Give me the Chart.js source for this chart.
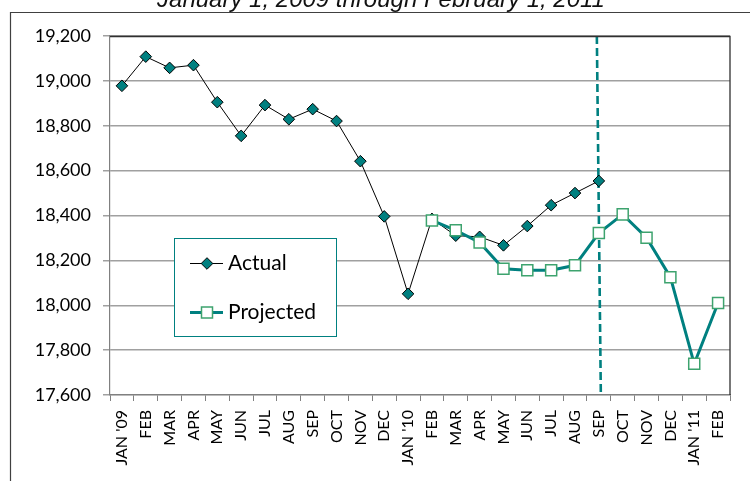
<!DOCTYPE html>
<html><head><meta charset="utf-8">
<script src="https://cdn.jsdelivr.net/npm/chart.js@4"></script>
<style>html,body{margin:0;padding:0;background:#fff;}#wrap{width:751px;height:481px;position:relative;}</style>
</head><body><div id="wrap"><canvas id="c" width="751" height="481"></canvas></div>
<script>
const categories = ["JAN '09","FEB","MAR","APR","MAY","JUN","JUL","AUG","SEP","OCT","NOV","DEC","JAN '10","FEB","MAR","APR","MAY","JUN","JUL","AUG","SEP","OCT","NOV","DEC","JAN '11","FEB"];
const actualValues = [18978,19108,19058,19070,18905,18755,18892,18829,18874,18821,18642,18396,18051,18385,18310,18305,18267,18353,18446,18500,18554,null,null,null,null,null];
const projectedValues = [null,null,null,null,null,null,null,null,null,null,null,null,null,18378,18334,18280,18163,18156,18156,18178,18322,18405,18301,18125,17739,18010];
const yMin = 17600, yMax = 19200, yStep = 200;
const subtitle = "January 1, 2009 through February 1, 2011";
const markerIndex = 20; // SEP '10
const seriesNames = ["Actual","Projected"];

const TEAL = '#008080';
const SQGREEN = '#3da36e';

const decorPlugin = {
  id:'decor',
  beforeDraw(chart){
    const ctx = chart.ctx;
    ctx.save();
    ctx.fillStyle='#fff';
    ctx.fillRect(0,0,chart.width,chart.height);
    ctx.strokeStyle='#404040';
    ctx.lineWidth=1.2;
    ctx.beginPath();
    ctx.moveTo(10.5,481);ctx.lineTo(10.5,12.5);ctx.lineTo(750,12.5);
    ctx.stroke();
    ctx.fillStyle='#111';
    ctx.font='italic 24px "Liberation Sans", Arial, sans-serif';
    ctx.textAlign='center';
    ctx.textBaseline='alphabetic';
    ctx.fillText(subtitle,381,7);
    ctx.restore();
  },
  beforeDatasetsDraw(chart){
    const ctx = chart.ctx, a = chart.chartArea;
    const x = chart.scales.x.getPixelForValue(markerIndex);
    ctx.save();
    ctx.strokeStyle=TEAL;
    ctx.lineWidth=2.6;
    ctx.setLineDash([8,4]);
    ctx.beginPath();
    ctx.moveTo(x-2,a.top);ctx.lineTo(x+2,a.bottom);
    ctx.stroke();
    ctx.restore();
  },
  afterDatasetsDraw(chart){
    const ctx = chart.ctx, a = chart.chartArea;
    ctx.save();
    ctx.strokeStyle='#303030';
    ctx.lineWidth=1.3;
    ctx.beginPath();
    ctx.moveTo(a.left,a.top+0.5);ctx.lineTo(a.right,a.top+0.5);ctx.lineTo(a.right,a.bottom);
    ctx.stroke();
    const bx=174.5, by=238.5, bw=162, bh=98;
    ctx.fillStyle='#fff';
    ctx.fillRect(bx,by,bw,bh);
    ctx.strokeStyle=TEAL;
    ctx.lineWidth=1;
    ctx.strokeRect(bx,by,bw,bh);
    const ds = chart.data.datasets;
    let y=263.5;
    ctx.strokeStyle=ds[0].borderColor; ctx.lineWidth=ds[0].borderWidth;
    ctx.beginPath();ctx.moveTo(190,y);ctx.lineTo(223,y);ctx.stroke();
    ctx.fillStyle=ds[0].pointBackgroundColor; ctx.strokeStyle=ds[0].pointBorderColor;
    ctx.beginPath();
    const r=ds[0].pointRadius;
    ctx.moveTo(207-r,y);ctx.lineTo(207,y-r);ctx.lineTo(207+r,y);ctx.lineTo(207,y+r);ctx.closePath();
    ctx.fill();ctx.stroke();
    y=312.5;
    ctx.strokeStyle=ds[1].borderColor; ctx.lineWidth=ds[1].borderWidth;
    ctx.beginPath();ctx.moveTo(190,y);ctx.lineTo(223,y);ctx.stroke();
    ctx.fillStyle='#fff'; ctx.strokeStyle=ds[1].pointBorderColor; ctx.lineWidth=ds[1].pointBorderWidth;
    ctx.fillRect(201.5,y-5.5,11,11);ctx.strokeRect(201.5,y-5.5,11,11);
    ctx.fillStyle='#000';
    ctx.font='21px Lato, sans-serif';
    ctx.textAlign='left';ctx.textBaseline='middle';
    ctx.fillText(seriesNames[0],228,263);
    ctx.fillText(seriesNames[1],228,312);
    ctx.restore();
  }
};

new Chart(document.getElementById('c'),{
  type:'line',
  data:{
    labels:categories,
    datasets:[
      {label:seriesNames[0],data:actualValues,borderColor:'#000',borderWidth:1,pointStyle:'rectRot',pointRadius:5.8,pointBackgroundColor:TEAL,pointBorderColor:'#000',pointBorderWidth:1,order:2,spanGaps:false},
      {label:seriesNames[1],data:projectedValues,borderColor:TEAL,borderWidth:3,pointStyle:'rect',pointRadius:7.8,pointBackgroundColor:'#fff',pointBorderColor:SQGREEN,pointBorderWidth:1.5,order:1,spanGaps:false}
    ]
  },
  options:{
    responsive:false,
    animation:false,
    devicePixelRatio:1,
    layout:{padding:{top:36,right:21,left:0,bottom:0}},
    plugins:{legend:{display:false},tooltip:{enabled:false},title:{display:false}},
    elements:{line:{tension:0}},
    scales:{
      x:{type:'category',offset:true,
        grid:{offset:true,drawOnChartArea:false,drawTicks:true,tickLength:6,color:'#808080',lineWidth:1},
        border:{display:true,color:'#808080',width:1.2},
        ticks:{minRotation:90,maxRotation:90,autoSkip:false,color:'#000',font:{family:'Lato',size:16},padding:9},
        afterFit(s){s.height=86;}
      },
      y:{min:yMin,max:yMax,
        ticks:{stepSize:yStep,callback:v=>v.toLocaleString('en-US'),color:'#000',font:{family:'Lato',size:18},padding:12},
        grid:{color:'#a0a0a0',lineWidth:1.5,tickLength:7,drawTicks:true},
        border:{display:true,color:'#808080',width:1.2},
        afterFit(s){s.width=110;}
      }
    }
  },
  plugins:[decorPlugin]
});
</script></body></html>
